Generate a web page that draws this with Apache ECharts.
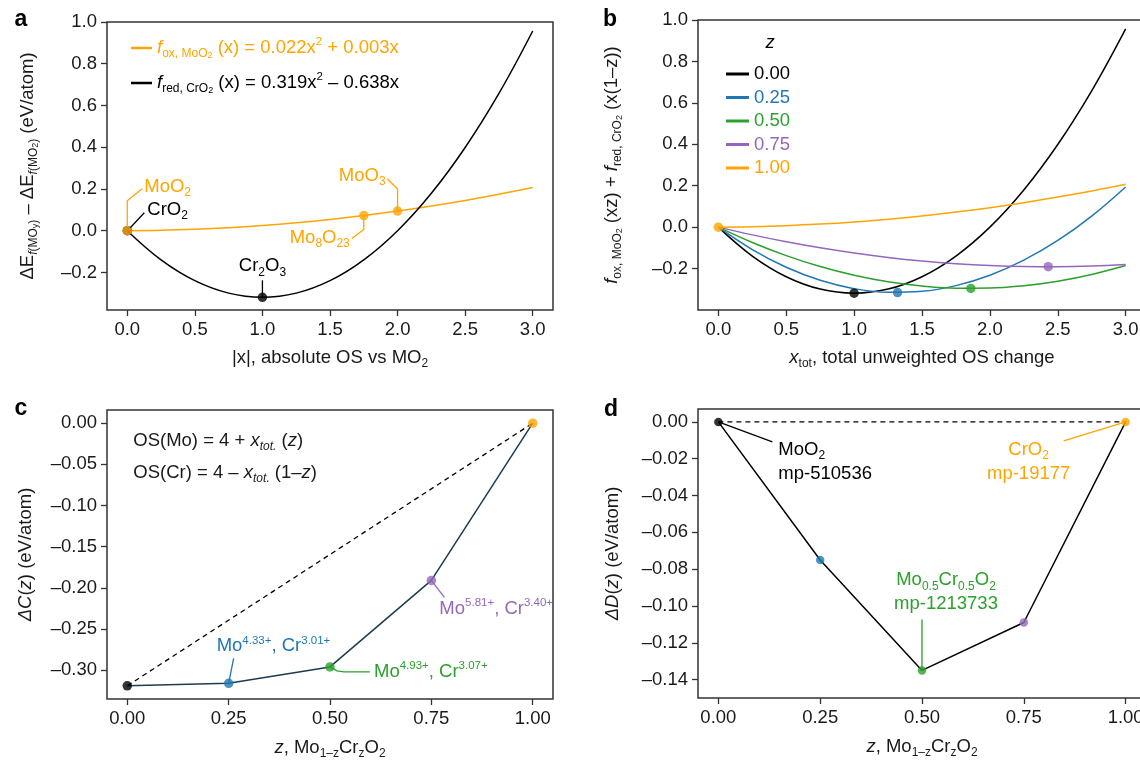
<!DOCTYPE html>
<html>
<head>
<meta charset="utf-8">
<script src="https://cdn.jsdelivr.net/npm/echarts@6/dist/echarts.min.js"></script>
<style>
html, body { margin: 0; padding: 0; background: #fff; }
#chart { width: 1140px; height: 760px; }
</style>
</head>
<body>
<div id="chart"></div>
<script>
var FONT = 'Liberation Sans, Arial, Helvetica, sans-serif';
var ORANGE = '#FFA500', BLUE = '#1f77b4', GREEN = '#2ca02c', PURPLE = '#9467bd', BLACK = '#000000', SLATE = '#1d3b4f';
var TXT = '#1a1a1a';

// panels a and b: curves sampled along the x axis
var xGrid = [0, 0.25, 0.5, 0.75, 1, 1.25, 1.5, 1.75, 2, 2.25, 2.5, 2.75, 3];
var foxVals = [0, 0.0021, 0.0070, 0.0146, 0.0250, 0.0381, 0.0540, 0.0726, 0.0940, 0.1181, 0.1450, 0.1746, 0.2070];
var fredVals = [0, -0.1396, -0.2393, -0.2991, -0.3190, -0.2991, -0.2393, -0.1396, 0, 0.1794, 0.3988, 0.6579, 0.9570];

// panel a: marked compounds
var aNames = ['CrO2', 'Cr2O3', 'MoO2', 'Mo8O23', 'MoO3'];
var aPtX = [0, 1, 0, 1.75, 2];
var aPtY = [0, -0.319, 0, 0.0726, 0.094];

// panel b: one curve per z
var bZ = ['0.00', '0.25', '0.50', '0.75', '1.00'];
var bVals25 = [0, -0.1081, -0.1937, -0.2566, -0.2969, -0.3147, -0.3098, -0.2824, -0.2323, -0.1596, -0.0643, 0.0536, 0.1940];
var bVals50 = [0, -0.0741, -0.1374, -0.1902, -0.2323, -0.2637, -0.2844, -0.2946, -0.2940, -0.2828, -0.2609, -0.2284, -0.1853];
var bVals75 = [0, -0.0373, -0.0706, -0.0998, -0.1249, -0.1461, -0.1632, -0.1762, -0.1853, -0.1902, -0.1912, -0.1881, -0.1809];
var bMinX = [1.0, 1.32, 1.86, 2.43, 0];
var bMinY = [-0.319, -0.316, -0.296, -0.191, 0];

// panels c and d
var zVals = [0, 0.25, 0.5, 0.75, 1];
var cVals = [-0.319, -0.316, -0.296, -0.191, 0];
var dVals = [0, -0.075, -0.135, -0.109, 0];

// tick labels
var abXTicks = [0, 0.5, 1, 1.5, 2, 2.5, 3];
var abYTicks = [-0.2, 0, 0.2, 0.4, 0.6, 0.8, 1.0];
var cdXTicks = [0, 0.25, 0.5, 0.75, 1];
var cYTicks = [-0.30, -0.25, -0.20, -0.15, -0.10, -0.05, 0];
var dYTicks = [-0.14, -0.12, -0.10, -0.08, -0.06, -0.04, -0.02, 0];

var zColors = [BLACK, BLUE, GREEN, PURPLE, ORANGE];

function zip(xs, ys) {
    var out = [];
    for (var i = 0; i < xs.length; i++) out.push([xs[i], ys[i]]);
    return out;
}

function fmt(d) {
    return function (v) {
        return (v < -1e-9 ? '\u2013' : '') + Math.abs(v).toFixed(d);
    };
}

// rich text styles; key is 'color' for components, 'fill' for graphic elements
function makeRich(colorKey, color) {
    var base = {
        b: { fontSize: 18.5, lineHeight: 24 },
        i: { fontSize: 18.5, lineHeight: 24, fontStyle: 'italic' },
        s: { fontSize: 12, lineHeight: 12, verticalAlign: 'bottom' },
        si: { fontSize: 12, lineHeight: 12, verticalAlign: 'bottom', fontStyle: 'italic' },
        ss: { fontSize: 9, lineHeight: 7, verticalAlign: 'bottom' },
        sp: { fontSize: 11.5, lineHeight: 17, verticalAlign: 'top' }
    };
    for (var k in base) {
        base[k].fontFamily = FONT;
        if (color) base[k][colorKey] = color;
    }
    return base;
}

function xAxis(g, min, max, ticks, d, name, gap) {
    return {
        type: 'value', gridIndex: g, min: min, max: max,
        axisLine: { show: false, onZero: false },
        axisTick: { show: true, length: 6, customValues: ticks, lineStyle: { color: '#333', width: 1.3 } },
        axisLabel: { customValues: ticks, formatter: fmt(d), color: TXT, fontSize: 18.5, fontFamily: FONT, margin: 10 },
        splitLine: { show: false },
        name: name, nameLocation: 'middle', nameGap: gap,
        nameTextStyle: { color: TXT, fontSize: 18.5, fontFamily: FONT, rich: makeRich('color') }
    };
}

function yAxis(g, min, max, ticks, d, name, gap) {
    return {
        type: 'value', gridIndex: g, min: min, max: max,
        axisLine: { show: false, onZero: false },
        axisTick: { show: true, length: 6, customValues: ticks, lineStyle: { color: '#333', width: 1.3 } },
        axisLabel: { customValues: ticks, formatter: fmt(d), color: TXT, fontSize: 18.5, fontFamily: FONT, margin: 10 },
        splitLine: { show: false },
        name: name, nameLocation: 'middle', nameGap: gap, nameRotate: 90,
        nameTextStyle: { color: TXT, fontSize: 18.5, fontFamily: FONT, rich: makeRich('color') }
    };
}

function grid(left, top, width, height) {
    return { left: left, top: top, width: width, height: height, show: true,
        borderColor: '#333', borderWidth: 1.5, backgroundColor: 'transparent', outerBoundsMode: 'none' };
}

function curve(name, g, ys, color) {
    return {
        name: name, type: 'line', xAxisIndex: g, yAxisIndex: g,
        data: zip(xGrid, ys), smooth: 0.4, showSymbol: false, symbol: 'none',
        itemStyle: { color: color }, lineStyle: { color: color, width: 1.5 }, z: 3
    };
}

function dots(name, g, xs, ys, colors, size) {
    var data = [];
    for (var i = 0; i < xs.length; i++) data.push({ value: [xs[i], ys[i]], itemStyle: { color: colors[i] } });
    return { name: name, type: 'scatter', xAxisIndex: g, yAxisIndex: g, data: data, symbolSize: size, z: 6 };
}

function straight(name, g, xs, ys, color, dashed) {
    return {
        name: name, type: 'line', xAxisIndex: g, yAxisIndex: g, data: zip(xs, ys),
        showSymbol: false, symbol: 'none',
        itemStyle: { color: color },
        lineStyle: { color: color, width: dashed ? 1.3 : 1.5, type: dashed ? [5, 4] : 'solid' }, z: dashed ? 2 : 3
    };
}

var legendText = {
    fox: '{i|f}{s|ox, MoO}{ss|2}{b| (x) = 0.022x}{sp|2}{b| + 0.003x}',
    fred: '{i|f}{s|red, CrO}{ss|2}{b| (x) = 0.319x}{sp|2}{b| \u2013 0.638x}'
};

var chart = echarts.init(document.getElementById('chart'));

var option = {
    animation: false,
    backgroundColor: '#fff',
    grid: [
        grid(107, 22, 446, 288),
        grid(698, 20, 448, 290),
        grid(107, 410, 446, 289),
        grid(698, 409, 448, 289)
    ],
    xAxis: [
        xAxis(0, -0.15, 3.15, abXTicks, 1, '{b||x|, absolute OS vs MO}{s|2}', 36),
        xAxis(1, -0.15, 3.15, abXTicks, 1, '{i|x}{s|tot}{b|, total unweighted OS change}', 36),
        xAxis(2, -0.05, 1.05, cdXTicks, 2, '{i|z}{b|, Mo}{s|1\u2013z}{b|Cr}{s|z}{b|O}{s|2}', 37),
        xAxis(3, -0.05, 1.05, cdXTicks, 2, '{i|z}{b|, Mo}{s|1\u2013z}{b|Cr}{s|z}{b|O}{s|2}', 37)
    ],
    yAxis: [
        yAxis(0, -0.38, 1.0, abYTicks, 1, '{b|\u0394E}{si|f}{s|(MO}{ss|y}{s|)}{b| \u2013 \u0394E}{si|f}{s|(MO}{ss|2}{s|)}{b| (eV/atom)}', 67),
        yAxis(1, -0.4, 1.0, abYTicks, 1, '{i|f}{s|ox, MoO}{ss|2}{b| (xz) + }{i|f}{s|red, CrO}{ss|2}{b| (x(1\u2013z))}', 74),
        yAxis(2, -0.335, 0.016, cYTicks, 2, '{i|\u0394C}{b|(}{i|z}{b|) (eV/atom)}', 69),
        yAxis(3, -0.15, 0.007, dYTicks, 2, '{i|\u0394D}{b|(}{i|z}{b|) (eV/atom)}', 73)
    ],
    legend: [
        {
            data: [{ name: 'fox', textStyle: { color: ORANGE } }, { name: 'fred', textStyle: { color: BLACK } }],
            orient: 'vertical', left: 126, top: 31, itemGap: 11,
            icon: 'rect', itemWidth: 21, itemHeight: 2.5, selectedMode: false,
            formatter: function (n) { return legendText[n]; },
            textStyle: { fontSize: 18.5, fontFamily: FONT, rich: makeRich('color') }
        },
        {
            data: bZ.map(function (z, i) { return { name: z, textStyle: { color: zColors[i] } }; }),
            orient: 'vertical', left: 721, top: 59, itemGap: 3.5,
            icon: 'rect', itemWidth: 23, itemHeight: 3, selectedMode: false,
            textStyle: { fontSize: 18.5, fontFamily: FONT, lineHeight: 20 }
        }
    ],
    series: [
        curve('fox', 0, foxVals, ORANGE),
        curve('fred', 0, fredVals, BLACK),
        dots('a points', 0, aPtX, aPtY, [BLACK, BLACK, ORANGE, ORANGE, ORANGE], 9.5),

        curve('0.00', 1, fredVals, BLACK),
        curve('0.25', 1, bVals25, BLUE),
        curve('0.50', 1, bVals50, GREEN),
        curve('0.75', 1, bVals75, PURPLE),
        curve('1.00', 1, foxVals, ORANGE),
        dots('b minima', 1, bMinX, bMinY, zColors, 9.5),

        straight('c hull', 2, [zVals[0], zVals[4]], [cVals[0], cVals[4]], BLACK, true),
        straight('c path', 2, zVals, cVals, SLATE, false),
        dots('c points', 2, zVals, cVals, zColors, 9.5),

        straight('d hull', 3, [zVals[0], zVals[4]], [dVals[0], dVals[4]], BLACK, true),
        straight('d path', 3, zVals, dVals, BLACK, false),
        dots('d points', 3, zVals, dVals, zColors, 8.5)
    ]
};

chart.setOption(option);

// annotations placed from the data positions
var gfx = [];
function px(g, x, y) { return chart.convertToPixel({ gridIndex: g }, [x, y]); }
function addLine(pts, color) {
    gfx.push({ type: 'polyline', shape: { points: pts }, style: { stroke: color, lineWidth: 1.3, fill: null }, z: 10, silent: true });
}
function addText(x, y, text, color, align, weight, size) {
    gfx.push({
        type: 'text', x: x, y: y, z: 10, silent: true,
        style: { text: text, rich: makeRich('fill', color), fill: color, fontSize: size || 18.5, fontFamily: FONT,
            fontWeight: weight || 'normal', align: align || 'left', verticalAlign: 'middle' }
    });
}

// panel letters
addText(21, 20, 'a', BLACK, 'center', 'bold', 23);
addText(610, 20, 'b', BLACK, 'center', 'bold', 23);
addText(21, 409, 'c', BLACK, 'center', 'bold', 23);
addText(611, 410, 'd', BLACK, 'center', 'bold', 23);

// panel a
var p = px(0, aPtX[2], aPtY[2]);
addLine([[p[0], p[1] - 4], [p[0], p[1] - 30], [p[0] + 15, p[1] - 42]], ORANGE);
addText(p[0] + 17, p[1] - 44, '{b|MoO}{s|2}', ORANGE);
addLine([[p[0] + 3, p[1] - 3], [p[0] + 17, p[1] - 18]], BLACK);
addText(p[0] + 20, p[1] - 21, '{b|CrO}{s|2}', BLACK);
var r = px(0, aPtX[3], aPtY[3]);
addLine([r, [r[0], r[1] + 14], [r[0] - 12, r[1] + 23]], ORANGE);
addText(r[0] - 14, r[1] + 22, '{b|Mo}{s|8}{b|O}{s|23}', ORANGE, 'right');
var q = px(0, aPtX[4], aPtY[4]);
addLine([q, [q[0], q[1] - 22], [q[0] - 10, q[1] - 32]], ORANGE);
addText(q[0] - 12, q[1] - 35, '{b|MoO}{s|3}', ORANGE, 'right');
var s = px(0, aPtX[1], aPtY[1]);
addLine([s, [s[0], s[1] - 17]], BLACK);
addText(s[0], s[1] - 31, '{b|Cr}{s|2}{b|O}{s|3}', BLACK, 'center');

// panel b legend title
addText(770, 43, '{i|z}', BLACK, 'center');

// panel c
var c0 = px(2, 0, 0);
addText(c0[0] + 6, 441, '{b|OS(Mo) = 4 + }{i|x}{si|tot.}{b| (}{i|z}{b|)}', TXT);
addText(c0[0] + 6, 473, '{b|OS(Cr) = 4 \u2013 }{i|x}{si|tot.}{b| (1\u2013}{i|z}{b|)}', TXT);
var u = px(2, zVals[3], cVals[3]);
addLine([u, [u[0] + 13, u[1] + 17]], PURPLE);
addText(u[0] + 8, u[1] + 28, '{b|Mo}{sp|5.81+}{b|, Cr}{sp|3.40+}', PURPLE);
var v = px(2, zVals[1], cVals[1]);
addLine([v, [v[0] + 5, v[1] - 25]], BLUE);
addText(v[0] - 12, v[1] - 37, '{b|Mo}{sp|4.33+}{b|, Cr}{sp|3.01+}', BLUE);
var w = px(2, zVals[2], cVals[2]);
addLine([w, [w[0] + 7, w[1] + 4], [w[0] + 14, w[1] + 5], [w[0] + 40, w[1] + 5]], GREEN);
addText(w[0] + 44, w[1] + 5, '{b|Mo}{sp|4.93+}{b|, Cr}{sp|3.07+}', GREEN);

// panel d
var a0 = px(3, zVals[0], dVals[0]);
addLine([a0, [a0[0] + 54, a0[1] + 20]], BLACK);
addText(a0[0] + 60, a0[1] + 40, '{b|MoO}{s|2}\n{b|mp-510536}', BLACK);
var b1 = px(3, zVals[4], dVals[4]);
addLine([b1, [b1[0] - 62, b1[1] + 19]], ORANGE);
addText(b1[0] - 97, b1[1] + 40, '{b|CrO}{s|2}\n{b|mp-19177}', ORANGE, 'center');
var g5 = px(3, zVals[2], dVals[2]);
addLine([[g5[0], g5[1] - 51], g5], GREEN);
addText(g5[0] + 24, g5[1] - 78, '{b|Mo}{s|0.5}{b|Cr}{s|0.5}{b|O}{s|2}\n{b|mp-1213733}', GREEN, 'center');

chart.setOption({ graphic: gfx });
</script>
</body>
</html>
